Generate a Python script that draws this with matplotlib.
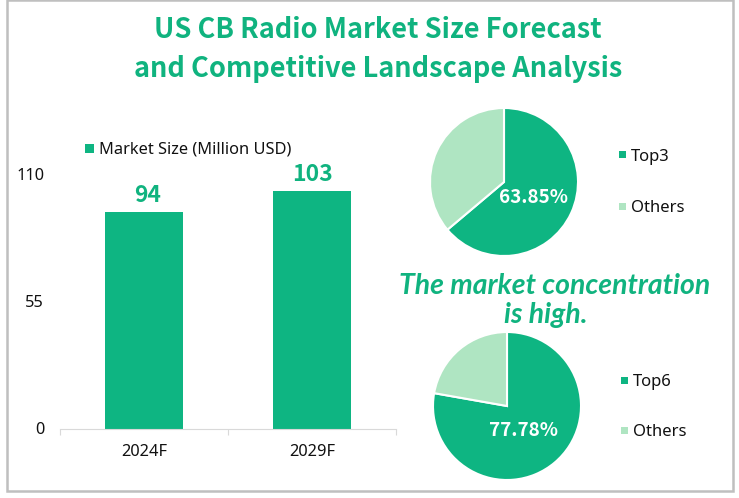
import matplotlib
matplotlib.use('Agg')
import matplotlib.pyplot as plt
from matplotlib.patches import Rectangle
from matplotlib.transforms import ScaledTranslation

BODY = ['Noto Sans', 'DejaVu Sans']
HEAVY = ['Noto Sans CJK SC', 'DejaVu Sans']
SLANT = ['Lato', 'Open Sans', 'DejaVu Sans']
plt.rcParams['font.family'] = BODY

W, H = 739, 498
GREEN = '#0EB582'
LIGHT = '#AFE5C2'
TITLE_GREEN = '#10B37F'

# data
years = ['2024F', '2029F']
market_size = [94, 103]
y_ticks = [0, 55, 110]
top3_labels = ['Top3', 'Others']
top3_share = [63.85, 36.15]
top6_labels = ['Top6', 'Others']
top6_share = [77.78, 22.22]


def px_axes(fig, x0, y0, x1, y1):
    # pixel box measured from the top left of the picture
    return fig.add_axes([x0 / W, 1 - y1 / H, (x1 - x0) / W, (y1 - y0) / H])


def draw_pie(fig, cx, cy, r, values, label, label_y, legend_names, legend_x, legend_ys):
    ax = px_axes(fig, cx - r, cy - r, cx + r, cy + r)
    ax.pie(values, colors=[GREEN, LIGHT], startangle=90, counterclock=False, radius=1,
           wedgeprops={'edgecolor': 'white', 'linewidth': 1.5})
    ax.set_xlim(-1, 1)
    ax.set_ylim(-1, 1)
    fig.text(label[0] / W, 1 - label_y / H, label[1], color='white', fontsize=13.6,
             fontweight='bold', family=HEAVY, ha='center', va='center')
    for name, col, ly in zip(legend_names, [GREEN, LIGHT], legend_ys):
        fig.add_artist(Rectangle((legend_x / W, 1 - (ly + 3.5) / H), 7 / W, 7 / H,
                                 transform=fig.transFigure, color=col, lw=0))
        fig.text((legend_x + 12) / W, 1 - (ly + 1.5) / H, name, color='#111111', fontsize=12,
                 ha='left', va='center')


fig = plt.figure(figsize=(W / 100, H / 100), dpi=100, facecolor='white')

# outer frame
fig.add_artist(Rectangle((7 / W, 1 - 491 / H), 726 / W, 491 / H, transform=fig.transFigure,
                         fill=False, edgecolor='#BFBFBF', linewidth=1.8))

# titles
fig.text(378 / W, 1 - 30 / H, 'US CB Radio Market Size Forecast', color=TITLE_GREEN,
         fontsize=19.6, fontweight='bold', family=HEAVY, ha='center', va='center')
fig.text(378 / W, 1 - 69 / H, 'and Competitive Landscape Analysis', color=TITLE_GREEN,
         fontsize=19.6, fontweight='bold', family=HEAVY, ha='center', va='center')

# bar chart
ax = px_axes(fig, 60, 175, 396, 429)
bars = ax.bar(years, market_size, width=0.47, color=GREEN)
ax.set_xlim(-0.5, 1.5)
ax.set_ylim(0, 110)
ax.set_yticks(y_ticks)
ax.set_xticks([-0.5, 0.5, 1.5], minor=False)
ax.set_xticklabels([])
ax.tick_params(axis='x', length=4, color='#D9D9D9', direction='out')
ax.tick_params(axis='y', length=0, labelsize=11.8, pad=11.5, labelcolor='#111111')
lift = ScaledTranslation(0, 1 / 100, fig.dpi_scale_trans)
for lab in ax.get_yticklabels():
    lab.set_transform(lab.get_transform() + lift)
for i, year in enumerate(years):
    ax.text(i, -10, year, ha='center', va='center', fontsize=11.8, color='#111111')
for s in ['top', 'right', 'left']:
    ax.spines[s].set_visible(False)
ax.spines['bottom'].set_color('#D9D9D9')
ax.patch.set_alpha(0)
nudge = [2.6, 0]
for b, v, dx in zip(bars, market_size, nudge):
    ax.annotate(str(v), (b.get_x() + b.get_width() / 2, v), xytext=(dx, 3.5),
                textcoords='offset points', ha='center', va='bottom',
                color=TITLE_GREEN, fontsize=16.5, fontweight='bold', family=HEAVY)

# bar legend
fig.add_artist(Rectangle((85 / W, 1 - 153 / H), 9 / W, 9 / H, transform=fig.transFigure,
                         color=GREEN, lw=0))
fig.text(99 / W, 1 - 149.5 / H, 'Market Size (Million USD)', fontsize=11.8, color='#111111',
         ha='left', va='center')

# pies
draw_pie(fig, 504, 182, 74, top3_share, (534, '63.85%'), 197, top3_labels, 619, [155, 206])
draw_pie(fig, 507, 406, 74, top6_share, (523.5, '77.78%'), 430, top6_labels, 621, [380, 430])

# middle note
fig.text(554.5 / W, 1 - 286 / H, 'The market concentration', color=TITLE_GREEN, fontsize=20.4,
         fontweight='bold', style='italic', family=SLANT, ha='center', va='center')
fig.text(546 / W, 1 - 315 / H, 'is high.', color=TITLE_GREEN, fontsize=20.4,
         fontweight='bold', style='italic', family=SLANT, ha='center', va='center')

fig.savefig('out.png', dpi=100)
